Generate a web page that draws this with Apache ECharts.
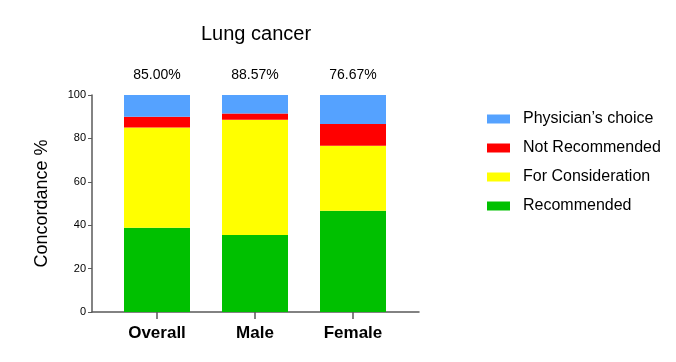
<!DOCTYPE html>
<html>
<head>
<meta charset="utf-8">
<script src="https://cdn.jsdelivr.net/npm/echarts@6/dist/echarts.min.js"></script>
<style>
html,body{margin:0;padding:0;background:#fff;}
#c{width:676px;height:362px;}
</style>
</head>
<body>
<div id="c"></div>
<script>
var categories = ['Overall', 'Male', 'Female'];
var recommended = [38.8, 35.5, 46.67];
var forConsideration = [46.2, 53.07, 30.0];
var notRecommended = [5.0, 2.86, 10.0];
var physiciansChoice = [10.0, 8.57, 13.33];
var concordance = ['85.00%', '88.57%', '76.67%'];
var yTicks = [0, 20, 40, 60, 80, 100];

var FONT = 'Arial, "Liberation Sans", Helvetica, sans-serif';
var chart = echarts.init(document.getElementById('c'), null, {renderer: 'canvas'});
var axisColor = '#5a5a5a';

function barSeries(name, data, color, extra) {
  var s = {
    name: name, type: 'bar', stack: 'total', data: data,
    xAxisIndex: 0, yAxisIndex: 0,
    barWidth: 66,
    itemStyle: {color: color},
    emphasis: {disabled: true}
  };
  if (extra) Object.assign(s, extra);
  return s;
}

chart.setOption({
  animation: false,
  textStyle: {fontFamily: FONT},
  title: {
    text: 'Lung cancer',
    left: 251, top: 19, textAlign: 'center',
    textStyle: {fontFamily: FONT, fontSize: 20, fontWeight: 'normal', color: '#000'}
  },
  legend: {
    data: ['Physician\u2019s choice', 'Not Recommended', 'For Consideration', 'Recommended'],
    orient: 'vertical', left: 482, top: 106,
    itemWidth: 23, itemHeight: 9, itemGap: 13,
    icon: 'rect',
    textStyle: {fontFamily: FONT, fontSize: 16, color: '#000', padding: [0,0,0,8]},
    selectedMode: false
  },
  grid: [
    {left: 108, right: 274, top: 95, bottom: 50},
    {left: 92, right: 257, top: 95, bottom: 50}
  ],
  xAxis: [
    {
      type: 'category', gridIndex: 0, data: categories,
      axisLine: {show: false},
      axisTick: {show: true, alignWithLabel: true, length: 7, lineStyle: {color: axisColor, width: 1.5}},
      axisLabel: {fontFamily: FONT, fontSize: 17, fontWeight: 'bold', color: '#000', margin: 13}
    },
    {
      type: 'value', gridIndex: 1, min: 0, max: 1,
      axisLine: {show: true, onZero: false, lineStyle: {color: axisColor, width: 1.5}},
      axisTick: {show: false}, axisLabel: {show: false}, splitLine: {show: false}
    }
  ],
  yAxis: [
    {
      type: 'value', gridIndex: 0, min: 0, max: 100, interval: 20,
      axisLine: {show: false}, axisTick: {show: false}, axisLabel: {show: false}, splitLine: {show: false}
    },
    {
      type: 'value', gridIndex: 1, min: yTicks[0], max: yTicks[yTicks.length - 1], interval: 20,
      name: 'Concordance %', nameLocation: 'middle', nameGap: 41,
      nameTextStyle: {fontFamily: FONT, fontSize: 18, color: '#000'},
      axisLine: {show: true, lineStyle: {color: axisColor, width: 1.5}},
      axisTick: {show: true, length: 4, lineStyle: {color: axisColor, width: 1}},
      axisLabel: {fontFamily: FONT, fontSize: 11, color: '#000', margin: 6},
      splitLine: {show: false}
    }
  ],
  series: [
    barSeries('Recommended', recommended, '#00C000'),
    barSeries('For Consideration', forConsideration, '#FFFF00'),
    barSeries('Not Recommended', notRecommended, '#FF0000'),
    barSeries('Physician\u2019s choice', physiciansChoice, '#55A2FF', {
      label: {
        show: true, position: 'top', distance: 13,
        fontFamily: FONT, fontSize: 14, color: '#000',
        formatter: function (p) { return concordance[p.dataIndex]; }
      }
    })
  ]
});
</script>
</body>
</html>
